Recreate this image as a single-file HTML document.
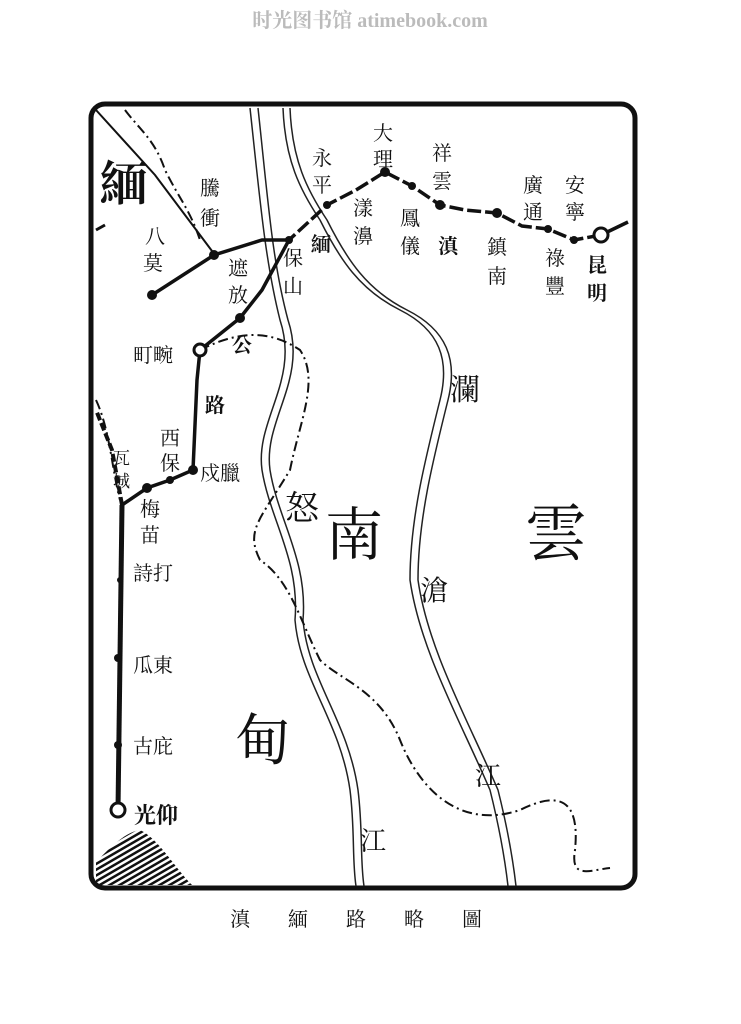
<!DOCTYPE html>
<html><head><meta charset="utf-8"><style>
body{margin:0;background:#fff;}
svg{display:block}
text{font-family:"Liberation Serif","Noto Serif CJK SC","Noto Sans CJK SC",serif;fill:#111}
</style></head><body>
<svg width="741" height="1024" viewBox="0 0 741 1024" xmlns="http://www.w3.org/2000/svg">
<defs><pattern id="h" width="5" height="5" patternUnits="userSpaceOnUse" patternTransform="rotate(-30)"><rect width="5" height="2.5" fill="#111"/></pattern></defs>
<rect width="741" height="1024" fill="#fff"/>
<text x="370" y="27" font-size="20" text-anchor="middle" font-family="Liberation Sans,Noto Sans CJK SC,sans-serif" style="fill:#bbb;font-weight:bold">时光图书馆 atimebook.com</text>
<rect x="91" y="104" width="544" height="784" rx="14" fill="none" stroke="#111" stroke-width="5"/>
<g fill="none" stroke="#222" stroke-width="1.5">
<path d="M250,108 C260,200 265,260 280,320 C300,380 255,420 262,470 C270,520 300,560 295,620 C300,680 340,720 350,790 C355,830 352,860 356,886"/>
<path d="M258,108 C268,200 272,260 288,320 C308,380 263,420 270,470 C278,520 308,560 303,620 C308,680 348,720 358,790 C363,830 360,860 364,886"/>
<path d="M283,108 C285,160 300,190 320,220 C340,260 360,290 400,310 C440,330 450,360 440,400 C425,460 410,520 410,580 C420,650 460,720 490,790 C500,830 505,860 508,886"/>
<path d="M290,108 C292,160 307,190 327,220 C347,260 367,290 407,310 C447,330 458,360 448,400 C433,460 418,520 418,580 C428,650 468,720 498,790 C508,830 513,860 516,886"/>
</g>
<g fill="none" stroke="#111" stroke-width="2" stroke-dasharray="10,4,2,4">
<path d="M125,110 C140,130 155,140 165,170 C180,200 190,210 200,240"/>
<path d="M200,350 C240,330 270,330 300,350 C320,380 300,420 290,470 C260,520 245,530 260,560 C290,580 300,620 320,660 C340,680 380,690 400,740 C420,790 460,830 520,810 C560,790 580,800 575,850 C570,880 590,870 610,868"/>
<path d="M96,400 C110,430 112,470 120,500"/>
</g>
<path d="M96,110 L155,175 L215,255" fill="none" stroke="#111" stroke-width="2"/>
<path d="M96,230 L105,225" stroke="#111" stroke-width="3"/>
<path d="M122,505 L118,810" stroke="#111" stroke-width="5" fill="none"/>
<path d="M122,505 L112,450 L96,410" stroke="#111" stroke-width="4" fill="none" stroke-dasharray="8,3"/>
<g fill="none" stroke="#111" stroke-width="3.5">
<path d="M601,235 L574,240 L548,229 L522,226 L497,213 L465,210 L440,205 L412,186 L385,172 L356,190 L327,205 L289,240" stroke-dasharray="14,4"/>
<path d="M289,240 L262,290 L240,318 L200,350 L197,380 L193,470 L170,480 L147,488 L122,505"/>
<path d="M289,240 L262,240 L214,255 L152,295"/>
<path d="M601,235 L628,222"/>
</g>
<g fill="#111">
<circle cx="574" cy="240" r="4"/><circle cx="548" cy="229" r="4"/><circle cx="497" cy="213" r="5"/>
<circle cx="440" cy="205" r="5"/><circle cx="412" cy="186" r="4"/><circle cx="385" cy="172" r="5"/>
<circle cx="327" cy="205" r="4"/><circle cx="289" cy="240" r="4"/><circle cx="214" cy="255" r="5"/>
<circle cx="152" cy="295" r="5"/><circle cx="240" cy="318" r="5"/><circle cx="193" cy="470" r="5"/>
<circle cx="170" cy="480" r="4"/><circle cx="147" cy="488" r="5"/><circle cx="118" cy="658" r="4"/><circle cx="118" cy="745" r="4"/>
<circle cx="120" cy="580" r="3"/>
</g>
<circle cx="601" cy="235" r="7" fill="#fff" stroke="#111" stroke-width="3"/>
<circle cx="200" cy="350" r="6" fill="#fff" stroke="#111" stroke-width="3"/>
<circle cx="118" cy="810" r="7" fill="#fff" stroke="#111" stroke-width="3"/>
<path d="M96,862 C110,848 125,832 140,830 C158,838 175,868 192,885 L96,885 Z" fill="url(#h)"/>
<g font-size="20">
<text x="100" y="200" font-size="48" font-weight="bold">緬</text>
<text x="200" y="195">騰</text><text x="200" y="225">衝</text>
<text x="145" y="243">八</text><text x="143" y="270">莫</text>
<text x="228" y="275">遮</text><text x="228" y="302">放</text>
<text x="283" y="265">保</text><text x="283" y="293">山</text>
<text x="312" y="165">永</text><text x="312" y="192">平</text>
<text x="311" y="251" font-weight="bold">緬</text>
<text x="373" y="140">大</text><text x="373" y="166">理</text>
<text x="353" y="215">漾</text><text x="353" y="243">濞</text>
<text x="432" y="160">祥</text><text x="432" y="188">雲</text>
<text x="400" y="225">鳳</text><text x="400" y="253">儀</text>
<text x="438" y="253" font-weight="bold">滇</text>
<text x="487" y="254">鎮</text><text x="487" y="283">南</text>
<text x="523" y="192">廣</text><text x="523" y="219">通</text>
<text x="565" y="192">安</text><text x="565" y="219">寧</text>
<text x="545" y="265">祿</text><text x="545" y="293">豐</text>
<text x="587" y="272" font-weight="bold">昆</text><text x="587" y="300" font-weight="bold">明</text>
<text x="133" y="362">町畹</text>
<text x="232" y="352" font-weight="bold">公</text>
<text x="205" y="412" font-weight="bold">路</text>
<text x="160" y="445">西</text><text x="160" y="470">保</text>
<text x="113" y="464" font-size="17">瓦</text><text x="113" y="487" font-size="17">城</text>
<text x="200" y="480">戍臘</text>
<text x="140" y="516">梅</text><text x="140" y="542">苗</text>
<text x="133" y="580">詩打</text>
<text x="133" y="672">瓜東</text>
<text x="133" y="753">古庇</text>
<text x="134" y="823" font-weight="bold" font-size="22">光仰</text>
<text x="450" y="400" font-size="30">瀾</text>
<text x="285" y="520" font-size="34">怒</text>
<text x="325" y="555" font-size="58">南</text>
<text x="525" y="555" font-size="62">雲</text>
<text x="420" y="600" font-size="28">滄</text>
<text x="235" y="760" font-size="56">甸</text>
<text x="475" y="785" font-size="26">江</text>
<text x="360" y="850" font-size="26">江</text>
</g>
<text x="230" y="926" font-size="20" letter-spacing="38">滇緬路略圖</text>
</svg>
</body></html>
